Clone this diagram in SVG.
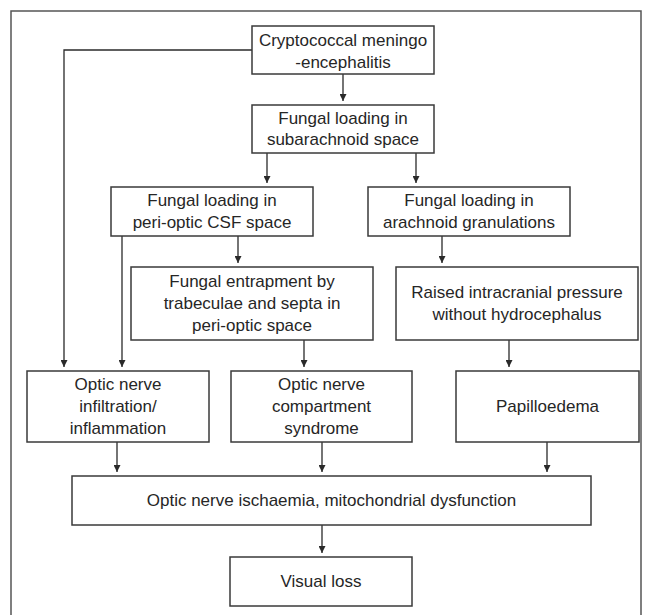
<svg xmlns="http://www.w3.org/2000/svg" width="650" height="615" viewBox="0 0 650 615">
<style>
.box{fill:#fff;stroke:#3a3a3a;stroke-width:1.5}
.t{font-family:"Liberation Sans",Arial,sans-serif;font-size:17px;fill:#262626;text-anchor:middle;dominant-baseline:central}
.c{fill:none;stroke:#2a2a2a;stroke-width:1.3}
.frame{fill:none;stroke:#555;stroke-width:1.5}
</style>
<defs>
<marker id="ah" viewBox="0 0 10 10" refX="10" refY="5" markerUnits="userSpaceOnUse" markerWidth="7" markerHeight="7" orient="auto">
<path d="M0,0 L10,5 L0,10 z" fill="#2a2a2a"/>
</marker>
</defs>
<rect class="frame" x="11" y="11" width="630" height="620"/>
<g id="connectors">
<path class="c" d="M252,50 H64 V367" marker-end="url(#ah)"/>
<path class="c" d="M343,74 V101" marker-end="url(#ah)"/>
<path class="c" d="M267,153 V183" marker-end="url(#ah)"/>
<path class="c" d="M416,153 V183" marker-end="url(#ah)"/>
<path class="c" d="M238,236 V263" marker-end="url(#ah)"/>
<path class="c" d="M442,236 V263" marker-end="url(#ah)"/>
<path class="c" d="M122,236 V367" marker-end="url(#ah)"/>
<path class="c" d="M304,340 V367" marker-end="url(#ah)"/>
<path class="c" d="M509,340 V367" marker-end="url(#ah)"/>
<path class="c" d="M117,442 V472" marker-end="url(#ah)"/>
<path class="c" d="M322,442 V472" marker-end="url(#ah)"/>
<path class="c" d="M547,442 V472" marker-end="url(#ah)"/>
<path class="c" d="M322,525 V553" marker-end="url(#ah)"/>
</g>
<g id="n1"><rect class="box" x="252" y="26" width="182" height="48"/>
<text class="t" x="343" y="40">Cryptococcal meningo</text><text class="t" x="343" y="62">-encephalitis</text></g>
<g id="n2"><rect class="box" x="252" y="105" width="182" height="48"/>
<text class="t" x="343" y="118">Fungal loading in</text><text class="t" x="343" y="139.5">subarachnoid space</text></g>
<g id="n3"><rect class="box" x="111" y="187" width="202" height="49"/>
<text class="t" x="212" y="200.5">Fungal loading in</text><text class="t" x="212" y="222">peri-optic CSF space</text></g>
<g id="n4"><rect class="box" x="368" y="187" width="202" height="49"/>
<text class="t" x="469" y="200.5">Fungal loading in</text><text class="t" x="469" y="222">arachnoid granulations</text></g>
<g id="n5"><rect class="box" x="131" y="267" width="242" height="73"/>
<text class="t" x="252" y="281.5">Fungal entrapment by</text><text class="t" x="252" y="303.5">trabeculae and septa in</text><text class="t" x="252" y="325.5">peri-optic space</text></g>
<g id="n6"><rect class="box" x="396" y="267" width="242" height="73"/>
<text class="t" x="517" y="292.5">Raised intracranial pressure</text><text class="t" x="517" y="314.5">without hydrocephalus</text></g>
<g id="n7"><rect class="box" x="27" y="371" width="182" height="71"/>
<text class="t" x="118" y="384.5">Optic nerve</text><text class="t" x="118" y="406.5">infiltration/</text><text class="t" x="118" y="428.5">inflammation</text></g>
<g id="n8"><rect class="box" x="231" y="371" width="181" height="71"/>
<text class="t" x="321.5" y="384.5">Optic nerve</text><text class="t" x="321.5" y="406.5">compartment</text><text class="t" x="321.5" y="428.5">syndrome</text></g>
<g id="n9"><rect class="box" x="456" y="371" width="183" height="71"/>
<text class="t" x="547.5" y="406.5">Papilloedema</text></g>
<g id="n10"><rect class="box" x="72" y="476" width="519" height="49"/>
<text class="t" x="331.5" y="500.5">Optic nerve ischaemia, mitochondrial dysfunction</text></g>
<g id="n11"><rect class="box" x="230" y="557" width="182" height="49"/>
<text class="t" x="321" y="581.5">Visual loss</text></g>
</svg>
